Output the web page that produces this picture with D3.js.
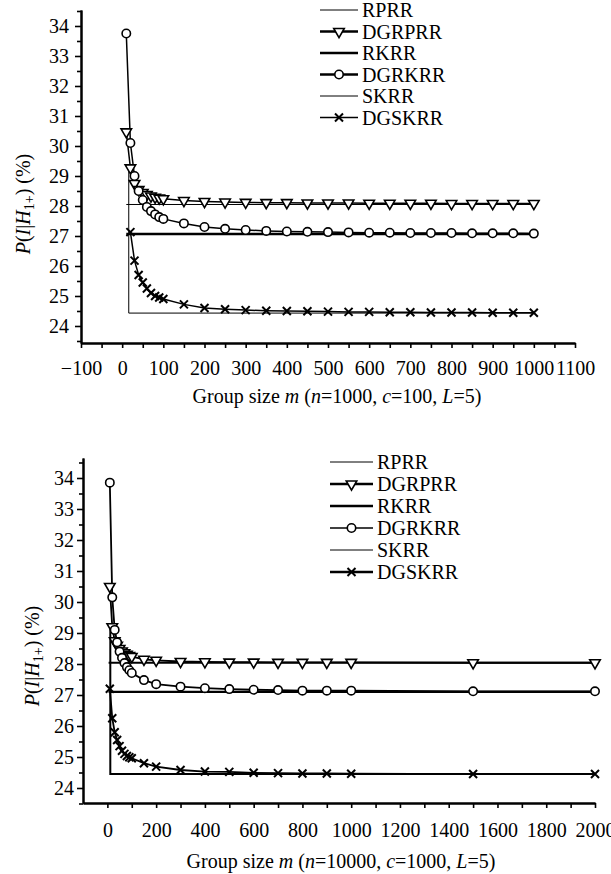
<!DOCTYPE html>
<html>
<head>
<meta charset="utf-8">
<script src="https://cdn.jsdelivr.net/npm/d3@7"></script>
<style>
  body { margin: 0; background: #fff; }
  svg { display: block; font-family: "Liberation Serif", "Times New Roman", serif; }
  .axis path, .axis line { stroke: #000; }
  .axis path { stroke-width: 2; }
  .axis line { stroke-width: 1.6; }
  .axis text { font-size: 20px; fill: #000; font-family: "Liberation Serif", "Times New Roman", serif; }
  .lbl { font-size: 20px; fill: #000; }
</style>
</head>
<body>
<svg id="chart" width="611" height="874"></svg>
<script>
// series names (legend order)
const seriesNames = ["RPRR", "DGRPRR", "RKRR", "DGRKRR", "SKRR", "DGSKRR"];

// --- top panel: n=1000, c=100, L=5 ---
const mTop = [10, 20, 30, 40, 50, 60, 70, 80, 90, 100,
  150, 200, 250, 300, 350, 400, 450, 500, 550, 600, 650, 700, 750, 800, 850, 900, 950, 1000];
const mTopSk = mTop.slice(1);
const dgrprrTop = [30.47, 29.27, 28.75, 28.55, 28.45, 28.38, 28.33, 28.29, 28.26, 28.24,
  28.18, 28.15, 28.13, 28.12, 28.11, 28.11, 28.10, 28.10, 28.10, 28.09, 28.09, 28.09, 28.09, 28.08, 28.08, 28.08, 28.08, 28.08];
const dgrkrrTop = [33.75, 30.10, 29.00, 28.50, 28.20, 27.97, 27.83, 27.72, 27.63, 27.57,
  27.42, 27.30, 27.24, 27.20, 27.17, 27.15, 27.14, 27.13, 27.12, 27.11, 27.11, 27.10, 27.10, 27.10, 27.09, 27.09, 27.09, 27.08];
const dgskrrTop = [27.13, 26.18, 25.70, 25.45, 25.25, 25.10, 25.00, 24.95, 24.90,
  24.72, 24.60, 24.56, 24.53, 24.51, 24.50, 24.49, 24.48, 24.47, 24.47, 24.46, 24.46, 24.45, 24.45, 24.45, 24.44, 24.44, 24.44];
const rprrTopM = [10, 1000], rprrTop = [28.05, 28.05];
const rkrrTopM = [10, 1000], rkrrTop = [27.07, 27.07];
const skrrTopM = [16, 16, 1000], skrrTop = [29.3, 24.43, 24.43];

// --- bottom panel: n=10000, c=1000, L=5 ---
const mBot = [10, 20, 30, 40, 50, 60, 70, 80, 90, 100,
  150, 200, 300, 400, 500, 600, 700, 800, 900, 1000, 1500, 2000];
const dgrprrBot = [30.50, 29.20, 28.75, 28.60, 28.50, 28.42, 28.36, 28.31, 28.27, 28.24,
  28.15, 28.12, 28.08, 28.07, 28.06, 28.06, 28.05, 28.05, 28.05, 28.05, 28.04, 28.04];
const dgrkrrBot = [33.85, 30.15, 29.10, 28.70, 28.40, 28.20, 28.03, 27.90, 27.80, 27.71,
  27.48, 27.35, 27.27, 27.22, 27.19, 27.17, 27.16, 27.14, 27.14, 27.14, 27.12, 27.12];
const dgskrrBot = [27.20, 26.25, 25.80, 25.55, 25.35, 25.20, 25.10, 25.03, 24.99, 24.96,
  24.80, 24.69, 24.58, 24.53, 24.52, 24.49, 24.48, 24.47, 24.47, 24.46, 24.45, 24.45];
const rprrBotM = [5, 2000], rprrBot = [28.04, 28.04];
const rkrrBotM = [5, 2000], rkrrBot = [27.10, 27.10];
const skrrBotM = [12, 12, 2000], skrrBot = [29.2, 24.45, 24.45];

// tick labels
const yTicks = d3.range(24, 35);
const xTicksTop = d3.range(-100, 1101, 100);
const xTicksBot = d3.range(0, 2001, 200);

const zip = (ms, vs) => ms.map((m, i) => ({ m, v: vs[i] }));
const fmt = d3.format("d");

const panels = [
  {
    x: [-100, 1100], xr: [81, 575], y: [23.433, 34.533], yr: [343, 10],
    xMajor: xTicksTop, xMinor: d3.range(-50, 1100, 100), xPad: 13, yPad: 6,
    title: ["(", "n", "=1000, ", "c", "=100, ", "L", "=5)"], titleX: 337, titleY: 403,
    yTitle: [30, 204],
    legend: { x0: 320, x1: 358, y0: 10, dy: 21.5 },
    lw: { base: [1, 2.5, 1], dg: 1.5, leg: [1, 2.5, 2.5, 2.5, 1, 1.3] },
    series: [
      { data: zip(rprrTopM, rprrTop) },
      { data: zip(mTop, dgrprrTop), mark: "tri" },
      { data: zip(rkrrTopM, rkrrTop) },
      { data: zip(mTop, dgrkrrTop), mark: "circ" },
      { data: zip(skrrTopM, skrrTop) },
      { data: zip(mTopSk, dgskrrTop), mark: "x" }
    ]
  },
  {
    x: [-100, 2000], xr: [83, 595], y: [23.516, 34.645], yr: [803, 458],
    xMajor: xTicksBot, xMinor: d3.range(100, 2000, 200), xPad: 15, yPad: 3,
    title: ["(", "n", "=10000, ", "c", "=1000, ", "L", "=5)"], titleX: 341, titleY: 868,
    yTitle: [39, 656],
    legend: { x0: 330, x1: 373, y0: 462, dy: 22 },
    lw: { base: [2, 2.2, 2], dg: 1.8, leg: [1, 2.5, 2.5, 1.5, 1, 2.5] },
    series: [
      { data: zip(rprrBotM, rprrBot) },
      { data: zip(mBot, dgrprrBot), mark: "tri" },
      { data: zip(rkrrBotM, rkrrBot) },
      { data: zip(mBot, dgrkrrBot), mark: "circ" },
      { data: zip(skrrBotM, skrrBot) },
      { data: zip(mBot, dgskrrBot), mark: "x" }
    ]
  }
];

function drawMarker(g, kind) {
  if (kind === "tri") {
    g.append("path").attr("d", d3.symbol(d3.symbolTriangle, 48)())
      .attr("transform", "rotate(180)")
      .attr("fill", "#fff").attr("stroke", "#000").attr("stroke-width", 1.6);
  } else if (kind === "circ") {
    g.append("circle").attr("r", 4.2)
      .attr("fill", "#fff").attr("stroke", "#000").attr("stroke-width", 1.6);
  } else if (kind === "x") {
    g.append("path").attr("d", "M-4,-4L4,4M-4,4L4,-4")
      .attr("fill", "none").attr("stroke", "#000").attr("stroke-width", 2);
  }
}

function drawPanel(svg, p) {
  const x = d3.scaleLinear().domain(p.x).range(p.xr);
  const y = d3.scaleLinear().domain(p.y).range(p.yr);
  const g = svg.append("g");

  // axes
  const x0 = p.xr[0], yb = p.yr[0];
  g.append("g").attr("class", "axis").attr("transform", `translate(0,${yb})`)
    .call(d3.axisBottom(x).tickValues(p.xMinor).tickSize(5).tickFormat("").tickSizeOuter(0));
  g.append("g").attr("class", "axis").attr("transform", `translate(0,${yb})`)
    .call(d3.axisBottom(x).tickValues(p.xMajor).tickSize(5).tickPadding(p.xPad)
      .tickFormat(fmt).tickSizeOuter(0));
  g.append("g").attr("class", "axis").attr("transform", `translate(${x0},0)`)
    .call(d3.axisLeft(y).tickValues(d3.range(23.5, 34.6, 1)).tickSize(4).tickFormat("").tickSizeOuter(0));
  g.append("g").attr("class", "axis").attr("transform", `translate(${x0},0)`)
    .call(d3.axisLeft(y).tickValues(yTicks).tickSize(6).tickPadding(p.yPad)
      .tickFormat(fmt).tickSizeOuter(0));

  const line = d3.line().x(d => x(d.m)).y(d => y(d.v));

  // lines first, markers on top
  p.series.forEach((s, i) => {
    const w = s.mark ? p.lw.dg : p.lw.base[i / 2];
    g.append("path").datum(s.data).attr("d", line)
      .attr("fill", "none").attr("stroke", "#000").attr("stroke-width", w);
  });
  p.series.forEach(s => {
    if (!s.mark) return;
    g.selectAll(null).data(s.data).enter().append("g")
      .attr("transform", d => `translate(${x(d.m)},${y(d.v)})`)
      .each(function () { drawMarker(d3.select(this), s.mark); });
  });

  // legend
  const L = p.legend;
  seriesNames.forEach((name, i) => {
    const ly = L.y0 + i * L.dy;
    const row = g.append("g");
    row.append("line").attr("x1", L.x0).attr("x2", L.x1).attr("y1", ly).attr("y2", ly)
      .attr("stroke", "#000").attr("stroke-width", p.lw.leg[i]);
    const mk = p.series[i].mark;
    if (mk) drawMarker(row.append("g").attr("transform", `translate(${(L.x0 + L.x1) / 2},${ly})`), mk);
    row.append("text").attr("class", "lbl").attr("x", L.x1 + 4).attr("y", ly + 7).text(name);
  });

  // x title
  const t = g.append("text").attr("class", "lbl").attr("x", p.titleX).attr("y", p.titleY)
    .attr("text-anchor", "middle");
  t.append("tspan").text("Group size ");
  t.append("tspan").attr("font-style", "italic").text("m");
  t.append("tspan").text(" ");
  p.title.forEach((s, i) => t.append("tspan").attr("font-style", i % 2 ? "italic" : null).text(s));

  // y title
  const yt = g.append("text").attr("class", "lbl").attr("text-anchor", "middle")
    .attr("transform", `translate(${p.yTitle[0]},${p.yTitle[1]}) rotate(-90)`);
  yt.append("tspan").attr("font-style", "italic").text("P");
  yt.append("tspan").text("(");
  yt.append("tspan").attr("font-style", "italic").text("I");
  yt.append("tspan").text("|");
  yt.append("tspan").attr("font-style", "italic").text("H");
  yt.append("tspan").attr("font-size", 14).attr("dy", 4).text("1+");
  yt.append("tspan").attr("dy", -4).text(") (%)");
}

function init() {
  const svg = d3.select("#chart");
  panels.forEach(p => drawPanel(svg, p));
}

init();
</script>
</body>
</html>
